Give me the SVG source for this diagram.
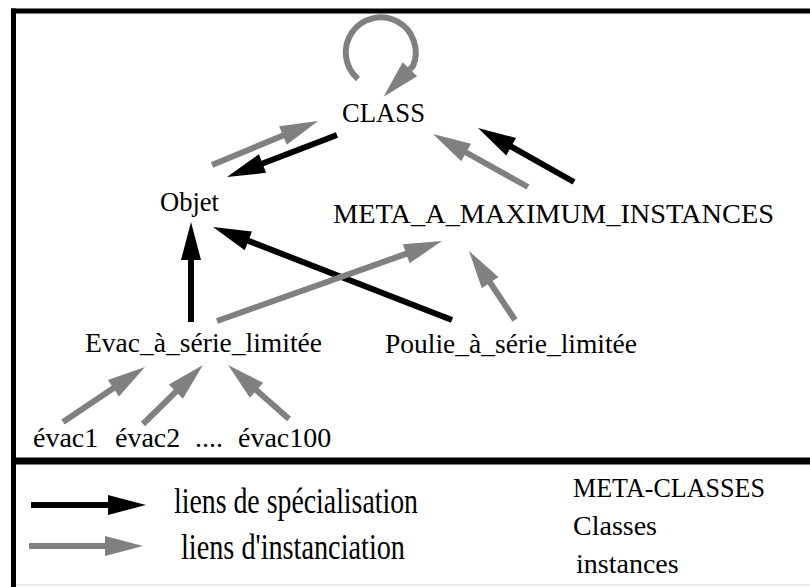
<svg xmlns="http://www.w3.org/2000/svg" width="810" height="587" viewBox="0 0 810 587">
  <style>
    .t { font-family: "Liberation Serif", "Times New Roman", serif; font-size: 28px; fill: #000; }
    .lg { font-family: "Liberation Serif", "Times New Roman", serif; font-size: 36px; fill: #000; }
    .blk { stroke: #000; stroke-width: 6; fill: none; marker-end: url(#hb); }
    .gry { stroke: #808080; stroke-width: 6; fill: none; marker-end: url(#hg); }
    .frame { stroke: #000; fill: none; }
  </style>
  <defs>
    <marker id="hb" markerUnits="userSpaceOnUse" markerWidth="40" markerHeight="20" refX="2" refY="10" orient="auto" overflow="visible">
      <path d="M0,0 L38,10 L0,20 z" fill="#000"/>
    </marker>
    <marker id="hg" markerUnits="userSpaceOnUse" markerWidth="40" markerHeight="20" refX="2" refY="10" orient="auto" overflow="visible">
      <path d="M0,0 L38,10 L0,20 z" fill="#808080"/>
    </marker>
  </defs>
  <rect width="810" height="587" fill="#fff"/>

  <g id="frame">
    <line class="frame" x1="11" y1="11" x2="810" y2="11" stroke-width="5"/>
    <line class="frame" x1="13.5" y1="8.5" x2="13.5" y2="587" stroke-width="5"/>
    <line class="frame" x1="11" y1="461" x2="810" y2="461" stroke-width="7"/>
    <line x1="16" y1="585" x2="810" y2="585" stroke="#e2e2e2" stroke-width="1.5"/>
  </g>

  <g id="connectors">
    <path class="gry" stroke-width="5" d="M358,79 A35,35 0 1,1 413,66 L408.5,70.7"/>
    <line class="gry" x1="212" y1="165" x2="284.8" y2="134.8"/>
    <line class="blk" x1="337" y1="135" x2="260.6" y2="164.2"/>
    <line class="gry" x1="528" y1="187" x2="464.4" y2="151.5"/>
    <line class="blk" x1="574" y1="182" x2="509.4" y2="145.7"/>
    <line class="blk" x1="191" y1="322" x2="191" y2="258"/>
    <line class="blk" x1="452" y1="320" x2="246.5" y2="240.1"/>
    <line class="gry" x1="217" y1="321" x2="408.1" y2="253.1"/>
    <line class="gry" x1="515" y1="320" x2="489" y2="281"/>
    <line class="gry" x1="63" y1="422" x2="115.1" y2="387.1"/>
    <line class="gry" x1="143" y1="424" x2="177.3" y2="390.3"/>
    <line class="gry" x1="289" y1="419" x2="255" y2="388.9"/>
  </g>

  <g id="node-class"><text class="t" x="342" y="122" textLength="83" lengthAdjust="spacingAndGlyphs">CLASS</text></g>
  <g id="node-objet"><text class="t" x="160" y="211" textLength="59" lengthAdjust="spacingAndGlyphs">Objet</text></g>
  <g id="node-meta"><text class="t" x="333" y="223" textLength="441" lengthAdjust="spacingAndGlyphs">META_A_MAXIMUM_INSTANCES</text></g>
  <g id="node-evac"><text class="t" x="85" y="352" textLength="237" lengthAdjust="spacingAndGlyphs">Evac_à_série_limitée</text></g>
  <g id="node-poulie"><text class="t" x="385" y="353" textLength="252" lengthAdjust="spacingAndGlyphs">Poulie_à_série_limitée</text></g>
  <g id="node-evac1"><text class="t" x="33" y="447">évac1</text></g>
  <g id="node-evac2"><text class="t" x="115" y="447">évac2</text></g>
  <g id="node-dots"><text class="t" x="195" y="447">....</text></g>
  <g id="node-evac100"><text class="t" x="238" y="447">évac100</text></g>

  <g id="legend">
    <line class="blk" x1="31" y1="505" x2="110" y2="505"/>
    <line class="gry" x1="29" y1="546" x2="107" y2="546"/>
    <text class="lg" x="174" y="513" textLength="244" lengthAdjust="spacingAndGlyphs">liens de spécialisation</text>
    <text class="lg" x="181" y="559" textLength="224" lengthAdjust="spacingAndGlyphs">liens d'instanciation</text>
    <text class="t" x="573" y="497" textLength="192" lengthAdjust="spacingAndGlyphs">META-CLASSES</text>
    <text class="t" x="573" y="535">Classes</text>
    <text class="t" x="576" y="573">instances</text>
  </g>
</svg>
